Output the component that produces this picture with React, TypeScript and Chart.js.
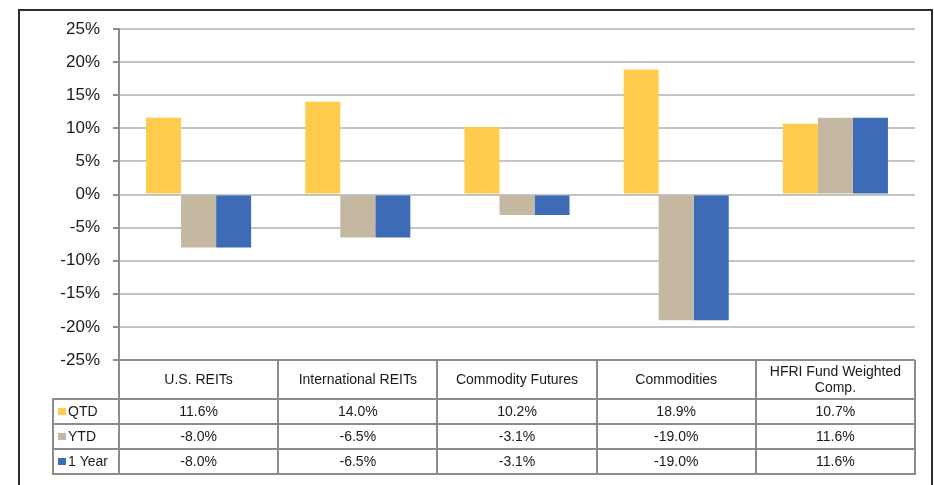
import React, { useEffect, useRef } from 'react';
import { Chart, registerables } from 'chart.js';

Chart.register(...registerables);

const categories: string[][] = [
  ['U.S. REITs'],
  ['International REITs'],
  ['Commodity Futures'],
  ['Commodities'],
  ['HFRI Fund Weighted', 'Comp.'],
];
const seriesNames = ['QTD', 'YTD', '1 Year'];
const qtdValues = [11.6, 14.0, 10.2, 18.9, 10.7];
const ytdValues = [-8.0, -6.5, -3.1, -19.0, 11.6];
const oneYearValues = [-8.0, -6.5, -3.1, -19.0, 11.6];
const seriesColors = ['#FFCC4E', '#C5B8A3', '#3D6BB5'];
const yMin = -25;
const yMax = 25;
const yStep = 5;

const FONT = '"Liberation Sans", Arial, sans-serif';
const LINE = '#8c8c8c';

const tablePlugin = {
  id: 'dataTable',
  afterDraw(chart: any) {
    const { ctx, chartArea } = chart;
    const left = chartArea.left;
    const right = chartArea.right;
    const top = chartArea.bottom;
    const headerH = 39;
    const rowH = 25;
    const legendLeft = left - 66;
    const n = categories.length;
    const cw = (right - left) / n;
    const series = [qtdValues, ytdValues, oneYearValues];
    const rowsTop = top + headerH;
    const bottom = rowsTop + rowH * series.length;

    ctx.save();
    ctx.strokeStyle = LINE;
    ctx.lineWidth = 2;
    ctx.beginPath();
    for (let r = 0; r <= series.length; r++) {
      const y = Math.round(rowsTop + r * rowH);
      ctx.moveTo(legendLeft - 1, y);
      ctx.lineTo(right + 1, y);
    }
    for (let c = 0; c <= n; c++) {
      const x = Math.round(left + c * cw);
      ctx.moveTo(x, top);
      ctx.lineTo(x, bottom + 1);
    }
    ctx.moveTo(legendLeft, rowsTop);
    ctx.lineTo(legendLeft, bottom + 1);
    ctx.stroke();

    ctx.fillStyle = '#1a1a1a';
    ctx.font = `14px ${FONT}`;
    ctx.textAlign = 'center';
    ctx.textBaseline = 'middle';
    categories.forEach((lines, c) => {
      const cx = left + (c + 0.5) * cw;
      if (lines.length === 1) {
        ctx.fillText(lines[0], cx, top + 20);
      } else {
        ctx.fillText(lines[0], cx, top + 12);
        ctx.fillText(lines[1], cx, top + 28);
      }
    });
    series.forEach((vals, r) => {
      const cy = rowsTop + (r + 0.5) * rowH + 0.5;
      vals.forEach((v, c) => {
        const cx = left + (c + 0.5) * cw;
        ctx.fillText(v.toFixed(1) + '%', cx, cy);
      });
      ctx.fillStyle = seriesColors[r];
      ctx.fillRect(legendLeft + 5, cy - 4, 8, 7);
      ctx.fillStyle = '#1a1a1a';
      ctx.textAlign = 'left';
      ctx.fillText(seriesNames[r], legendLeft + 15, cy);
      ctx.textAlign = 'center';
    });

    ctx.strokeStyle = '#2e2e2e';
    ctx.lineWidth = 2;
    ctx.strokeRect(19, 10, 913, 500);
    ctx.restore();
  },
};

export default function App() {
  const ref = useRef<HTMLCanvasElement | null>(null);
  useEffect(() => {
    if (!ref.current) return;
    const chart = new Chart(ref.current, {
      type: 'bar',
      data: {
        labels: categories.map((c) => c.join(' ')),
        datasets: [
          { label: seriesNames[0], data: qtdValues, backgroundColor: seriesColors[0] },
          { label: seriesNames[1], data: ytdValues, backgroundColor: seriesColors[1] },
          { label: seriesNames[2], data: oneYearValues, backgroundColor: seriesColors[2] },
        ],
      },
      options: {
        responsive: false,
        animation: false,
        devicePixelRatio: 1,
        layout: { padding: { left: 0, top: 29, right: 19, bottom: 125 } },
        datasets: { bar: { categoryPercentage: 0.66, barPercentage: 1 } },
        plugins: { legend: { display: false }, tooltip: { enabled: false } },
        scales: {
          x: { display: false },
          y: {
            min: yMin,
            max: yMax,
            ticks: {
              stepSize: yStep,
              padding: 13,
              color: '#1a1a1a',
              font: { family: FONT, size: 17 },
              callback: (v: any) => `${v}%`,
            },
            grid: {
              color: (c: any) => (c.tick && c.tick.value === yMin ? LINE : '#c4c4c4'),
              lineWidth: 2,
              tickLength: 6,
              tickColor: LINE,
            },
            border: { color: LINE, width: 2 },
            afterFit: (scale: any) => {
              scale.width = 119;
            },
          },
        },
      },
      plugins: [tablePlugin],
    });
    return () => chart.destroy();
  }, []);
  return (
    <div style={{ position: 'absolute', left: 0, top: 0, width: 934, height: 485, background: '#fff' }}>
      <canvas ref={ref} width={934} height={485} style={{ display: 'block' }} />
    </div>
  );
}
